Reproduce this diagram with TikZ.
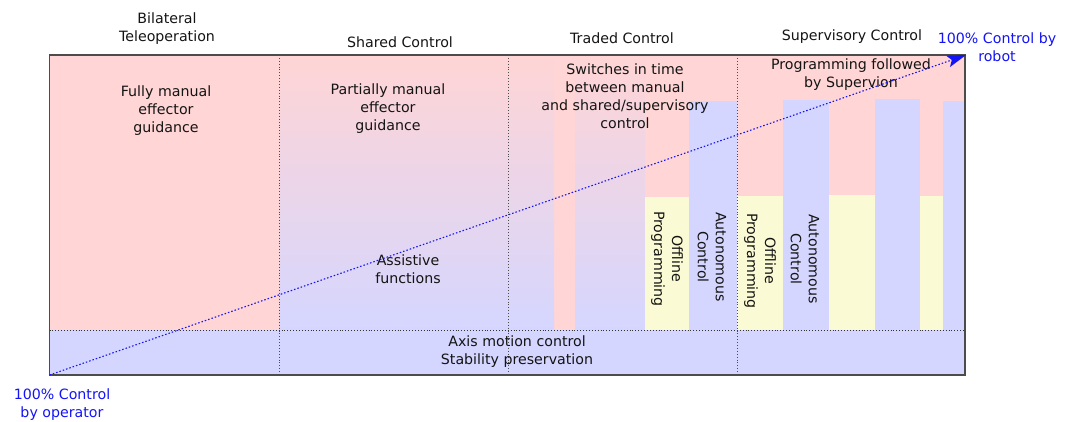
\documentclass[tikz,border=0pt]{standalone}
\usepackage{fontspec}
\setmainfont{DejaVu Sans}
\usetikzlibrary{arrows.meta}
\definecolor{pinkc}{RGB}{255,213,213}
\definecolor{bluec}{RGB}{213,214,255}
\definecolor{yellowc}{RGB}{250,250,212}
\definecolor{txtc}{RGB}{20,20,20}
\definecolor{arrowc}{RGB}{20,20,245}
\begin{document}
\begin{tikzpicture}[x=1pt,y=-1pt,
  lbl/.style={align=center,inner sep=0pt,text=txtc,font=\fontsize{14.2}{18}\selectfont},
  bluelbl/.style={lbl,text=arrowc},
  rotlbl/.style={lbl,rotate=-90},
  divider/.style={draw=black!70,dotted,line width=0.9pt},
  hdiv/.style={draw=black!80,dotted,line width=0.9pt},
  frame/.style={draw=black!70,line width=1.2pt},
  ctrlarrow/.style={draw=arrowc,line width=1.1pt,dash pattern=on 1.5pt off 2pt,
    -{Stealth[length=19pt,width=12pt,inset=4pt,fill=arrowc]}}
]
\useasboundingbox (0,0) rectangle (1070,422);
% column 1
\fill[pinkc] (49.5,55) rectangle (279,330);
% column 2 gradient
\fill[top color=pinkc,bottom color=bluec] (279,55) rectangle (508,330);
% column 3
\fill[pinkc] (508,55) rectangle (737,330);
\fill[top color=pinkc,bottom color=bluec] (508,55) rectangle (554,330);
\fill[top color=pinkc,bottom color=bluec] (575,55) rectangle (645,330);
\fill[yellowc] (645,197.5) rectangle (689,330);
\fill[bluec] (689,101) rectangle (737,330);
% column 4
\fill[pinkc] (737,55) rectangle (965,330);
\fill[yellowc] (737,196.5) rectangle (783,330);
\fill[bluec] (783,100) rectangle (829,330);
\fill[yellowc] (829,195.5) rectangle (875,330);
\fill[bluec] (875,99) rectangle (920,330);
\fill[yellowc] (920,196.5) rectangle (943,330);
\fill[bluec] (943,101) rectangle (965,330);
% bottom band
\fill[bluec] (49.5,330) rectangle (965,375);
% dividers
\draw[hdiv] (49.5,330) -- (965,330);
\draw[divider] (279,55) -- (279,375);
\draw[divider] (508,55) -- (508,375);
\draw[divider] (737,55) -- (737,375);
\draw[frame] (49.5,55) rectangle (965,375);

% headings
\node[lbl] (bilat) at (167,29) {Bilateral\\Teleoperation};
\node[lbl] (shared) at (400,42) {Shared Control};
\node[lbl] (traded) at (622,38) {Traded Control};
\node[lbl] (superv) at (852,37) {Supervisory Control};
\node[bluelbl] (robot) at (997,47) {100\% Control by\\robot};
\node[bluelbl] (operator) at (62,405) {100\% Control\\by operator};

% body texts
\node[lbl] (fully) at (166,111) {Fully manual\\effector\\guidance};
\node[lbl] (partial) at (388,109) {Partially manual\\effector\\guidance};
\node[lbl] (switches) at (625,96) {Switches in time\\between manual\\and shared/supervisory\\control};
\node[lbl] (progsup) at (851,75) {Programming followed\\by Supervion};
\node[lbl] (assist) at (408,269) {Assistive\\functions};
\node[lbl] (axis) at (517,352) {Axis motion control\\Stability preservation};

% rotated texts
\node[rotlbl] (off1) at (667,259) {Offline\\Programming};
\node[rotlbl] (auto1) at (712,257) {Autonomous\\Control};
\node[rotlbl] (off2) at (760,261) {Offline\\Programming};
\node[rotlbl] (auto2) at (805,259) {Autonomous\\Control};

% arrow
\coordinate (opstart) at (49.5,375);
\coordinate (robend) at (966,55);
\draw[ctrlarrow] (opstart) -- (robend);
\end{tikzpicture}
\end{document}
